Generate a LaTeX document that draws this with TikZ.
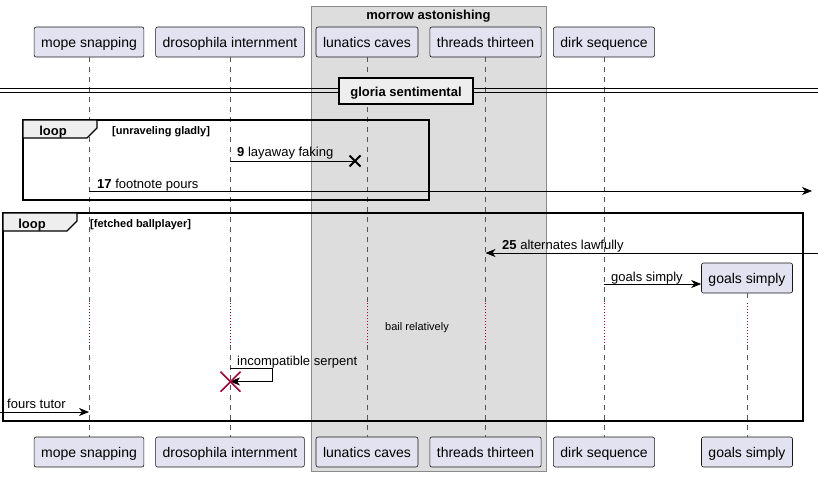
\documentclass[tikz,border=0pt]{standalone}
\usepackage{fontspec}
\setmainfont{Liberation Sans}
\usetikzlibrary{arrows.meta,calc}
\definecolor{partfill}{HTML}{E2E2F0}
\definecolor{partline}{HTML}{181818}
\definecolor{grpfill}{HTML}{DDDDDD}
\definecolor{grpline}{HTML}{8A8A8A}
\definecolor{tabfill}{HTML}{EEEEEE}
\definecolor{lifec}{HTML}{555555}
\definecolor{redc}{HTML}{A80036}
\tikzset{
  part/.style={draw=partline, fill=partfill, rounded corners=2pt, minimum height=30pt,
    inner xsep=7pt, inner ysep=0pt, line width=0.6pt, text height=11pt, text depth=0pt,
    font=\fontsize{14}{16}\selectfont},
  life/.style={draw=lifec, dash pattern=on 5pt off 5pt, line width=0.6pt},
  delayl/.style={draw=redc, dash pattern=on 1pt off 2pt, line width=1pt},
  msg/.style={draw=black, line width=0.8pt, -{Stealth[length=10pt,width=8pt,inset=3pt]}},
  plainmsg/.style={draw=black, line width=0.8pt},
  msglab/.style={anchor=west, inner sep=0pt, text height=10pt, text depth=0pt,
    font=\fontsize{13}{15}\selectfont},
  framebox/.style={draw=black, line width=1.5pt},
  tabshape/.style={fill=tabfill, draw=black, line width=1.2pt},
  tablab/.style={inner sep=0pt, text height=10pt, text depth=0pt, font=\bfseries\fontsize{13}{15}\selectfont},
  guardlab/.style={anchor=west, inner sep=0pt, text height=8.5pt, text depth=0pt,
    font=\bfseries\fontsize{11}{13}\selectfont},
  xmark/.style={draw=black, line width=1.8pt},
  redx/.style={draw=redc, line width=1.5pt},
}
\begin{document}
\begin{tikzpicture}[x=1pt,y=-1pt]
\useasboundingbox (0,0) rectangle (818,477);
% group box
\node[draw=grpline, fill=grpfill, line width=0.8pt, minimum width=235pt, minimum height=465pt, inner sep=0pt] (grp) at (428.5,238.5) {};
\node[font=\bfseries\fontsize{13}{15}\selectfont, inner sep=0pt, text height=10pt, text depth=0pt] (grpt) at (428.5,14.5) {morrow astonishing};
% participants
\node[part] (moT) at (89,42) {mope snapping};
\node[part] (drT) at (230,42) {drosophila internment};
\node[part] (luT) at (367,42) {lunatics caves};
\node[part] (thT) at (485.5,42) {threads thirteen};
\node[part] (diT) at (604,42) {dirk sequence};
\node[part] (moB) at (89,452) {mope snapping};
\node[part] (drB) at (230,452) {drosophila internment};
\node[part] (luB) at (367,452) {lunatics caves};
\node[part] (thB) at (485.5,452) {threads thirteen};
\node[part] (diB) at (604,452) {dirk sequence};
\node[part] (goB) at (747,452) {goals simply};
\node[part] (goT) at (747,278) {goals simply};
% delay coordinates
\coordinate (dA) at (0,303);
\coordinate (dB) at (0,345);
% lifelines
\foreach \p in {mo,dr,lu,th,di}{
  \draw[life] (\p T.south) -- (\p T |- dA);
  \draw[delayl] (\p T |- dA) -- (\p T |- dB);
  \draw[life] (\p T |- dB) -- (\p B.north);
}
\draw[life] (goT.south) -- (goT |- dA);
\draw[delayl] (goT |- dA) -- (goT |- dB);
\draw[life] (goT |- dB) -- (goB.north);
\node[inner sep=0pt, text height=8pt, text depth=0pt, font=\fontsize{11}{13}\selectfont] (bail) at (417,326) {bail relatively};
% divider
\coordinate (dvL) at (0,90);
\coordinate (dvR) at (818,90);
\draw[line width=1pt] ([yshift=-2pt]dvL) -- ([yshift=-2pt]dvR);
\draw[line width=1pt] ([yshift=2pt]dvL) -- ([yshift=2pt]dvR);
\node[fill=tabfill, draw=black, line width=1.5pt, minimum width=134pt, minimum height=26pt, inner sep=0pt,
  text height=10pt, text depth=0pt, font=\bfseries\fontsize{13}{15}\selectfont] (div) at (406,91) {gloria sentimental};
% loop 1
\draw[framebox] (23,120) rectangle (429,200);
\draw[tabshape] (23,120) -- (97,120) -- (97,128) -- (87,138) -- (23,138) -- cycle;
\node[tablab] (lp1) at (53,130) {loop};
\node[guardlab] (g1) at (112,130) {[unraveling gladly]};
% message 9
\coordinate (x9) at (355,161);
\draw[plainmsg] (drT |- x9) -- (x9);
\draw[xmark] ($(x9)+(-5.5,-5.5)$) -- ($(x9)+(5.5,5.5)$);
\draw[xmark] ($(x9)+(-5.5,5.5)$) -- ($(x9)+(5.5,-5.5)$);
\node[msglab] (l9) at (237,151) {\textbf{9} layaway faking};
% message 17
\coordinate (e17) at (812,191);
\draw[msg] (moT |- e17) -- (e17);
\node[msglab] (l17) at (97,183) {\textbf{17} footnote pours};
% loop 2
\draw[framebox] (3,213) rectangle (803,421);
\draw[tabshape] (3,213) -- (77,213) -- (77,221) -- (67,231) -- (3,231) -- cycle;
\node[tablab] (lp2) at (32,223) {loop};
\node[guardlab] (g2) at (90,223) {[fetched ballplayer]};
% message 25
\coordinate (s25) at (818,253);
\draw[msg] (s25) -- (thT |- s25);
\node[msglab] (l25) at (502,244) {\textbf{25} alternates lawfully};
% creation
\coordinate (cr) at (0,284);
\draw[msg] (diT |- cr) -- (goT.west |- cr);
\node[msglab] (lg) at (611,276) {goals simply};
% self message
\coordinate (sa) at (0,368);
\coordinate (sb) at (272,381.5);
\draw[msg] (drT |- sa) -- (sb |- sa) -- (sb) -- (drT |- sb);
\node[msglab] (li) at (237,360) {incompatible serpent};
\coordinate (xd) at (230.5,381.7);
\draw[redx] ($(xd)+(-10,-10)$) -- ($(xd)+(10,10)$);
\draw[redx] ($(xd)+(-10,10)$) -- ($(xd)+(10,-10)$);
% fours tutor
\coordinate (s4) at (0,412);
\draw[msg] (s4) -- (moT |- s4);
\node[msglab] (lf) at (7,403) {fours tutor};
\end{tikzpicture}
\end{document}
